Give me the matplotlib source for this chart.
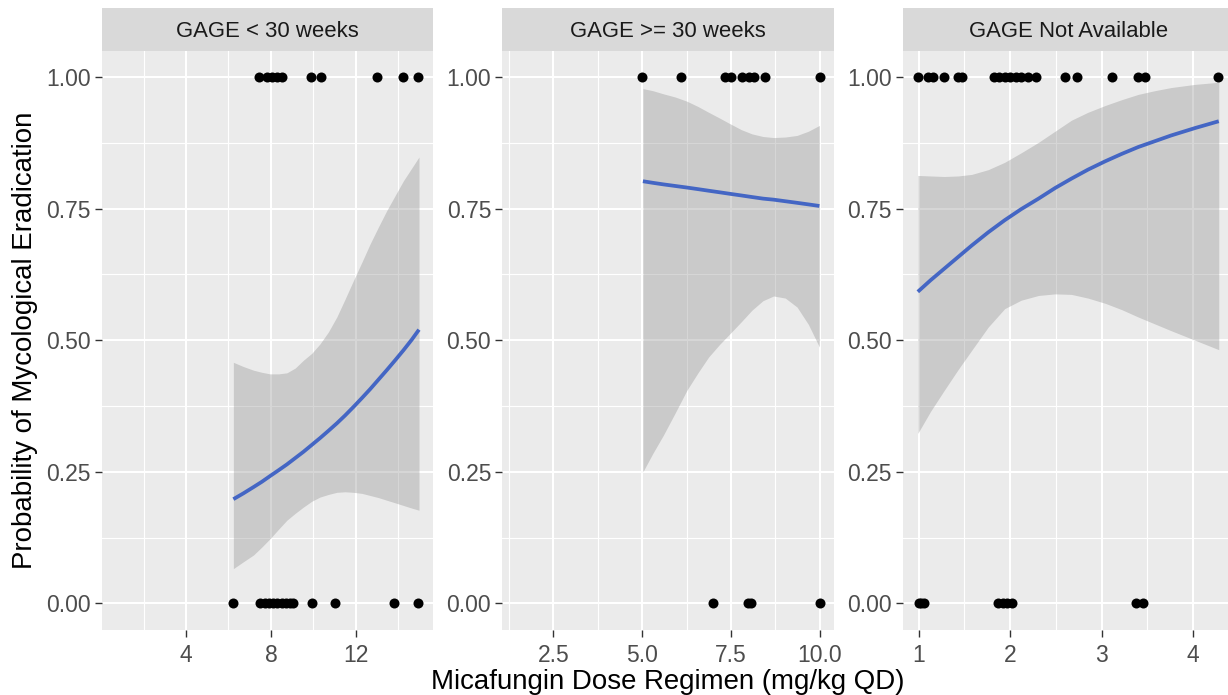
import matplotlib
matplotlib.use("Agg")
import matplotlib.pyplot as plt
from matplotlib.ticker import FixedLocator

plt.rcParams['font.family'] = ['Liberation Sans', 'DejaVu Sans']

# ---------------- data ----------------
facet_titles = ["GAGE < 30 weeks", "GAGE >= 30 weeks", "GAGE Not Available"]

# observed doses (mg/kg QD) with outcome 1 (eradicated) and 0 (not eradicated)
p1_dose_1 = [7.45, 7.8, 8.04, 8.27, 8.51, 9.89, 10.36, 12.98, 14.21, 14.94]
p1_dose_0 = [6.23, 7.49, 7.7, 7.9, 8.1, 8.3, 8.5, 8.7, 8.9, 9.05, 9.93, 11.03, 13.80, 14.94]
p2_dose_1 = [5.0, 6.08, 7.33, 7.5, 7.8, 8.0, 8.15, 8.46, 10.0]
p2_dose_0 = [7.0, 7.98, 8.06, 10.0]
p3_dose_1 = [0.99, 1.10, 1.16, 1.28, 1.43, 1.47, 1.82, 1.88, 1.94, 2.0, 2.06, 2.12, 2.2, 2.28,
             2.60, 2.73, 3.11, 3.40, 3.47, 4.27]
p3_dose_0 = [1.0, 1.03, 1.06, 1.87, 1.92, 1.97, 2.02, 3.37, 3.45]

# fitted logistic curve with 95% CI band
p1_x = [6.23, 6.70, 7.18, 7.57, 7.96, 8.36, 8.75, 9.14, 9.53, 9.92, 10.31, 10.71, 11.10,
        11.49, 11.88, 12.28, 12.67, 13.06, 13.45, 13.85, 14.24, 14.63, 14.97]
p1_fit = [0.198, 0.209, 0.221, 0.231, 0.242, 0.253, 0.264, 0.276, 0.288, 0.301, 0.314, 0.328,
          0.342, 0.357, 0.373, 0.390, 0.407, 0.425, 0.443, 0.462, 0.481, 0.501, 0.520]
p1_lo = [0.066, 0.079, 0.092, 0.107, 0.123, 0.141, 0.158, 0.171, 0.183, 0.194, 0.202, 0.207,
         0.211, 0.212, 0.211, 0.209, 0.205, 0.201, 0.196, 0.191, 0.186, 0.181, 0.177]
p1_hi = [0.458, 0.450, 0.443, 0.439, 0.436, 0.436, 0.438, 0.447, 0.462, 0.475, 0.493, 0.516,
         0.544, 0.578, 0.613, 0.648, 0.683, 0.715, 0.746, 0.775, 0.803, 0.827, 0.848]

p2_x = [5.02, 5.3, 5.6, 5.93, 6.26, 6.57, 6.87, 7.18, 7.48, 7.79, 8.09, 8.40, 8.70, 9.03,
        9.36, 9.68, 9.99]
p2_fit = [0.802, 0.799, 0.796, 0.793, 0.790, 0.787, 0.784, 0.781, 0.778, 0.775, 0.772, 0.769,
          0.767, 0.764, 0.761, 0.758, 0.755]
p2_lo = [0.250, 0.285, 0.320, 0.362, 0.405, 0.438, 0.468, 0.492, 0.513, 0.535, 0.557, 0.575,
         0.584, 0.580, 0.563, 0.530, 0.487]
p2_hi = [0.978, 0.974, 0.968, 0.962, 0.954, 0.944, 0.933, 0.922, 0.911, 0.900, 0.892, 0.887,
         0.885, 0.886, 0.889, 0.897, 0.908]

p3_x = [0.99, 1.13, 1.28, 1.43, 1.58, 1.76, 1.94, 2.12, 2.31, 2.49, 2.67, 2.85, 3.04, 3.22,
        3.40, 3.58, 3.76, 4.02, 4.28]
p3_fit = [0.592, 0.614, 0.636, 0.658, 0.680, 0.705, 0.728, 0.749, 0.769, 0.789, 0.807, 0.824,
          0.840, 0.854, 0.867, 0.878, 0.889, 0.903, 0.916]
p3_lo = [0.323, 0.365, 0.405, 0.444, 0.481, 0.525, 0.560, 0.576, 0.585, 0.588, 0.587, 0.580,
         0.570, 0.558, 0.544, 0.531, 0.518, 0.500, 0.482]
p3_hi = [0.813, 0.812, 0.811, 0.812, 0.815, 0.824, 0.838, 0.856, 0.876, 0.897, 0.918, 0.933,
         0.946, 0.957, 0.967, 0.974, 0.980, 0.986, 0.990]

x_major = [[4, 8, 12], [2.5, 5.0, 7.5, 10.0], [1, 2, 3, 4]]
x_major_labels = [["4", "8", "12"], ["2.5", "5.0", "7.5", "10.0"], ["1", "2", "3", "4"]]
x_minor = [[2, 6, 10, 14], [1.25, 3.75, 6.25, 8.75], [1.5, 2.5, 3.5]]
x_limits = [(0.03, 15.63), (1.06, 10.39), (0.828, 4.45)]
y_major = [0.0, 0.25, 0.5, 0.75, 1.0]
y_major_labels = ["0.00", "0.25", "0.50", "0.75", "1.00"]
y_minor = [0.125, 0.375, 0.625, 0.875]

panels = [
    (p1_dose_1, p1_dose_0, p1_x, p1_fit, p1_lo, p1_hi),
    (p2_dose_1, p2_dose_0, p2_x, p2_fit, p2_lo, p2_hi),
    (p3_dose_1, p3_dose_0, p3_x, p3_fit, p3_lo, p3_hi),
]

# ---------------- layout ----------------
W, H = 1228, 695
fig = plt.figure(figsize=(W / 100, H / 100), dpi=100)
fig.patch.set_facecolor("white")

lefts = [101.7, 502.3, 903.0]
pw = 331.3
ptop, pbot = 50.7, 629.7
strip_top = 8.0

for i, (d1, d0, cx, cfit, clo, chi) in enumerate(panels):
    ax = fig.add_axes([lefts[i] / W, (H - pbot) / H, pw / W, (pbot - ptop) / H])
    ax.set_facecolor("#EBEBEB")
    for s in ax.spines.values():
        s.set_visible(False)
    ax.set_xlim(*x_limits[i])
    ax.set_ylim(-0.05, 1.05)
    ax.xaxis.set_major_locator(FixedLocator(x_major[i]))
    ax.set_xticklabels(x_major_labels[i])
    ax.xaxis.set_minor_locator(FixedLocator(x_minor[i]))
    ax.yaxis.set_major_locator(FixedLocator(y_major))
    ax.set_yticklabels(y_major_labels)
    ax.yaxis.set_minor_locator(FixedLocator(y_minor))
    ax.grid(which="major", color="white", linewidth=1.5)
    ax.grid(which="minor", color="white", linewidth=0.8)
    ax.set_axisbelow(True)
    ax.tick_params(which="major", length=5, width=1.0, color="#333333",
                   labelcolor="#4D4D4D", labelsize=16.5, pad=3)
    ax.tick_params(axis="x", which="major", pad=5)
    ax.tick_params(which="minor", length=0)

    ax.fill_between(cx, clo, chi, color="#999999", alpha=0.4, linewidth=0, zorder=2)
    ax.plot(cx, cfit, color="#4466C4", linewidth=2.7, zorder=3, solid_capstyle="butt",
            solid_joinstyle="round")
    ax.scatter(d1, [1.0] * len(d1), s=52, color="black", linewidths=0, zorder=4, clip_on=False)
    ax.scatter(d0, [0.0] * len(d0), s=52, color="black", linewidths=0, zorder=4, clip_on=False)

    sax = fig.add_axes([lefts[i] / W, (H - ptop) / H, pw / W, (ptop - strip_top) / H])
    sax.set_facecolor("#D9D9D9")
    sax.set_xticks([])
    sax.set_yticks([])
    for s in sax.spines.values():
        s.set_visible(False)
    sax.text(0.5, 0.46, facet_titles[i], ha="center", va="center", fontsize=15.9,
             color="#1A1A1A", transform=sax.transAxes)

fig.text(668 / W, 1 - 682 / H, "Micafungin Dose Regimen (mg/kg QD)", ha="center", va="center",
         fontsize=19.9, color="black")
fig.text(25 / W, 1 - 340 / H, "Probability of Mycological Eradication", ha="center", va="center",
         rotation=90, fontsize=19.9, color="black")

fig.savefig("out.png", dpi=100)
